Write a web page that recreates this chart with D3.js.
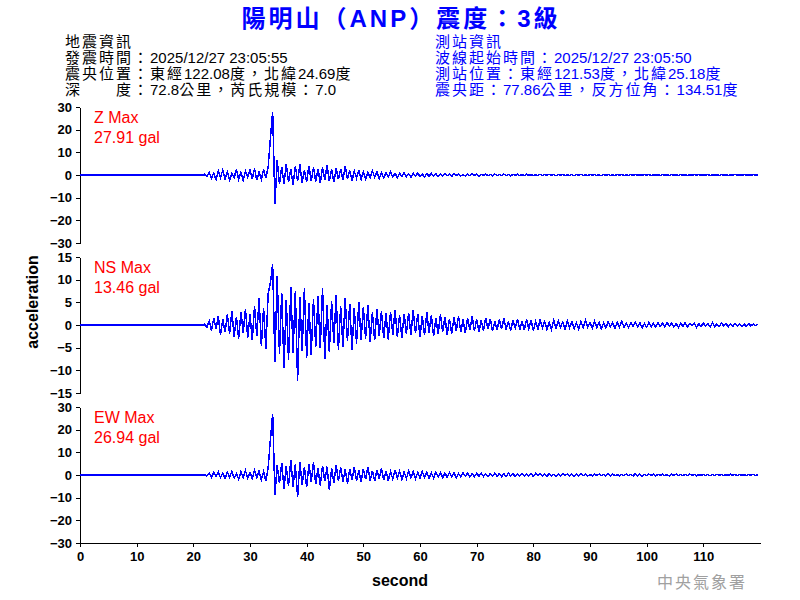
<!DOCTYPE html>
<html>
<head>
<meta charset="utf-8">
<script src="https://cdn.jsdelivr.net/npm/d3@7"></script>
<style>
  body { margin: 0; background: #fff; }
  .axis text { font-family: "Liberation Sans", Arial, sans-serif; font-size: 13px; font-weight: bold; fill: #000; }
  .axis path, .axis line { stroke: #000; shape-rendering: crispEdges; }
</style>
</head>
<body>
<div id="chart"></div>
<script>
// header texts
var title = "陽明山（ANP）震度：3級";
var quakeInfo = ["地震資訊", "發震時間：2025/12/27 23:05:55", "震央位置：東經122.08度，北緯24.69度", "深　　度：72.8公里，芮氏規模：7.0"];
var stationInfo = ["測站資訊", "波線起始時間：2025/12/27 23:05:50", "測站位置：東經121.53度，北緯25.18度", "震央距：77.86公里，反方位角：134.51度"];

// channels
var channels = ["Z", "NS", "EW"];
var maxLabels = ["27.91 gal", "13.46 gal", "26.94 gal"];
var yLimits = [30, 15, 30];
var yTicks = [
  [-30, -20, -10, 0, 10, 20, 30],
  [-15, -10, -5, 0, 5, 10, 15],
  [-30, -20, -10, 0, 10, 20, 30]
];
var xTicks = [0, 10, 20, 30, 40, 50, 60, 70, 80, 90, 100, 110];
var xMax = 120;

// trace is flat until the first arrival, then one sample every 0.4 s
var startTime = 22.0;
var sampleStep = 0.4;

var zValues = [
  0.3,-0.8,1.2,-1.5,0.9,-2.0,1.8,-1.1,2.3,-1.7,
  1.4,-2.2,0.8,-1.3,2.6,-1.9,1.1,-2.4,1.7,-0.9,
  2.1,-1.6,2.8,-2.3,1.3,-2.0,2.5,-1.4,3.4,16.2,
  27.91,-12.8,6.4,-4.1,3.6,-3.9,4.8,-3.2,2.7,-4.4,
  3.9,-2.8,4.6,-3.5,2.2,-3.1,4.1,-2.6,3.3,-2.9,
  2.8,-3.6,3.4,-2.1,4.3,-2.7,2.4,-3.2,3.0,-1.9,
  2.6,-2.3,3.8,-1.8,2.0,-2.5,1.7,-1.4,2.2,-2.0,
  1.5,-1.8,1.2,-1.3,1.9,-1.0,1.4,-1.6,0.9,-1.2,
  1.1,-0.8,1.3,-0.9,0.7,-1.1,0.8,-0.6,1.0,-0.7,
  0.6,-1.0,0.8,-0.5,0.9,-0.7,0.4,-0.8,0.6,-0.5,
  0.7,-0.4,0.5,-0.6,0.3,-0.5,0.6,-0.3,0.4,-0.6,
  0.5,-0.3,0.6,-0.4,0.2,-0.5,0.4,-0.3,0.5,-0.2,
  0.4,-0.5,0.3,-0.2,0.5,-0.4,0.2,-0.3,0.4,-0.3,
  0.3,-0.2,0.4,-0.3,0.2,-0.4,0.3,-0.2,0.3,-0.3,
  0.2,-0.3,0.3,-0.2,0.2,-0.3,0.1,-0.2,0.3,-0.2,
  0.2,-0.2,0.3,-0.1,0.2,-0.3,0.2,-0.1,0.2,-0.2,
  0.1,-0.2,0.2,-0.3,0.2,-0.1,0.3,-0.2,0.1,-0.2,
  0.2,-0.1,0.2,-0.2,0.1,-0.3,0.2,-0.1,0.2,-0.2,
  0.1,-0.2,0.2,-0.1,0.3,-0.2,0.1,-0.2,0.2,-0.1,
  0.2,-0.1,0.1,-0.2,0.2,-0.1,0.2,-0.3,0.1,-0.1,
  0.1,-0.2,0.2,-0.1,0.1,-0.2,0.2,-0.1,0.1,-0.2,
  0.2,-0.1,0.1,-0.2,0.1,-0.1,0.2,-0.1,0.2,-0.1,
  0.1,-0.1,0.2,-0.2,0.1,-0.1,0.1,-0.2,0.2,-0.1,
  0.1,-0.2,0.1,-0.1,0.2,-0.1,0.1,-0.1,0.2,-0.1,
  0.1,-0.1,0.2,-0.1,0.1
];

var nsValues = [
  0.2,-0.5,0.9,-1.2,1.5,-0.8,1.9,-2.2,1.3,-1.6,
  2.4,-1.9,3.1,-2.6,1.8,-3.0,2.9,-1.7,3.6,-2.8,
  2.3,-3.4,4.2,-2.5,5.9,-4.6,3.8,-5.2,6.8,9.3,
  13.46,-8.2,10.9,-6.4,7.1,-9.5,5.6,-7.8,8.3,-6.1,
  7.4,-12.4,6.2,-5.8,8.1,-7.3,4.9,-6.6,5.7,-4.8,
  6.3,-5.1,8.2,-7.6,4.4,-6.0,5.3,-3.9,6.5,-5.4,
  4.2,-4.8,5.9,-3.6,4.7,-5.5,3.8,-4.1,5.0,-3.3,
  3.9,-3.0,4.4,-3.7,2.8,-3.4,3.6,-2.5,3.1,-2.9,
  2.6,-3.2,2.9,-2.1,3.4,-2.7,2.2,-2.8,2.5,-1.9,
  2.7,-2.3,3.3,-1.8,2.4,-2.6,1.9,-2.2,2.8,-1.7,
  2.1,-2.5,1.6,-2.0,2.3,-1.5,1.8,-2.2,1.4,-1.9,
  1.7,-1.3,2.0,-1.6,1.2,-1.8,1.5,-1.1,1.9,-1.4,
  1.3,-1.6,1.0,-1.2,1.6,-0.9,1.4,-1.3,0.8,-1.1,
  1.2,-0.9,1.5,-1.0,0.8,-1.3,1.1,-0.7,1.3,-1.0,
  0.9,-1.1,1.2,-0.8,1.0,-1.2,0.7,-0.9,1.1,-0.6,
  0.8,-1.0,0.6,-0.9,1.0,-0.7,0.9,-0.5,0.7,-0.9,
  0.9,-0.6,0.7,-0.8,0.5,-0.9,0.8,-0.6,1.0,-0.5,
  0.6,-0.7,0.8,-0.5,0.6,-0.8,0.4,-0.6,0.7,-0.4,
  0.5,-0.7,0.6,-0.4,0.8,-0.5,0.4,-0.6,0.5,-0.3,
  0.6,-0.4,0.5,-0.6,0.3,-0.5,0.6,-0.4,0.4,-0.5,
  0.5,-0.3,0.4,-0.5,0.6,-0.3,0.4,-0.4,0.3,-0.5,
  0.4,-0.3,0.5,-0.4,0.3,-0.2,0.4,-0.5,0.3,-0.3,
  0.4,-0.2,0.3,-0.4,0.5,-0.3,0.2,-0.3,0.4,-0.2,
  0.3,-0.4,0.2,-0.3,0.4,-0.2,0.3,-0.3,0.2,-0.3,
  0.3,-0.2,0.2,-0.1,0.2
];

var ewValues = [
  0.2,-0.4,0.7,-0.9,1.1,-0.6,1.4,-1.2,0.8,-1.5,
  1.2,-0.9,1.6,-1.3,0.7,-1.8,1.5,-1.0,1.9,-1.4,
  1.1,-1.6,2.0,-1.2,1.7,-2.1,1.4,-2.6,3.2,15.6,
  26.94,-8.6,4.3,-3.7,5.2,-6.1,3.8,-4.9,6.6,-5.3,
  4.7,-9.8,5.9,-4.2,3.6,-5.4,4.9,-3.1,5.6,-4.0,
  3.2,-4.6,4.1,-2.8,3.7,-6.7,2.9,-3.5,4.4,-2.6,
  3.5,-3.0,2.4,-3.8,2.7,-2.2,3.3,-2.5,2.0,-2.9,
  2.6,-1.9,3.4,-2.4,1.8,-2.7,2.2,-1.6,2.9,-2.1,
  1.9,-2.4,1.5,-1.8,2.3,-1.4,1.7,-2.0,1.3,-1.6,
  1.8,-1.2,1.4,-1.7,1.1,-1.3,1.6,-1.0,1.2,-1.4,
  1.0,-1.3,1.3,-0.9,1.1,-1.2,0.8,-1.0,1.2,-0.7,
  0.9,-1.1,0.7,-0.8,1.0,-0.6,0.8,-0.9,0.6,-0.8,
  0.8,-0.6,0.9,-0.7,0.5,-0.8,0.7,-0.5,0.8,-0.6,
  0.6,-0.7,0.5,-0.6,0.8,-0.4,0.6,-0.7,0.4,-0.5,
  0.7,-0.5,0.6,-0.4,0.5,-0.6,0.7,-0.3,0.5,-0.6,
  0.4,-0.5,0.6,-0.4,0.3,-0.6,0.5,-0.4,0.6,-0.3,
  0.5,-0.3,0.4,-0.5,0.3,-0.4,0.6,-0.3,0.4,-0.5,
  0.3,-0.4,0.5,-0.3,0.4,-0.2,0.3,-0.4,0.5,-0.3,
  0.4,-0.3,0.2,-0.4,0.3,-0.3,0.5,-0.2,0.3,-0.4,
  0.6,-0.3,0.4,-0.5,0.3,-0.2,0.4,-0.3,0.5,-0.4,
  0.3,-0.2,0.4,-0.3,0.2,-0.4,0.3,-0.2,0.4,-0.3,
  0.2,-0.3,0.3,-0.2,0.4,-0.2,0.3,-0.3,0.2,-0.2,
  0.3,-0.2,0.2,-0.3,0.2,-0.2,0.3,-0.1,0.2,-0.3,
  0.2,-0.2,0.3,-0.1,0.2,-0.3,0.2,-0.2,0.1,-0.2,
  0.2,-0.1,0.3,-0.2,0.1
];

var traces = [zValues, nsValues, ewValues];

var width = 800, height = 600;
var margin = {left: 80, right: 40};
var panelTop = 107, panelHeight = 136, panelGap = 150;

var svg = d3.select("#chart").append("svg")
    .attr("width", width)
    .attr("height", height);

var latin = "'Liberation Sans', Arial, sans-serif";
var cjk = "'Noto Sans CJK TC', sans-serif";

// title
svg.append("text")
    .attr("x", 401)
    .attr("y", 27)
    .attr("text-anchor", "middle")
    .style("font-family", "'Liberation Sans', 'Noto Sans CJK TC', sans-serif")
    .style("font-size", "24px")
    .style("font-weight", "bold")
    .style("letter-spacing", "3px")
    .style("fill", "#0000ff")
    .text(title);

// info blocks, CJK runs spaced out a little more than the digits
function infoBlock(lines, x, color) {
  var t = svg.append("g").selectAll("text")
      .data(lines)
    .enter().append("text")
      .attr("x", x)
      .attr("y", function(d, i) { return 47 + i * 16; })
      .style("fill", color);

  t.each(function(d) {
    var el = d3.select(this);
    d.split(/([\u0020-\u007e]+)/).filter(function(s) { return s.length; })
      .forEach(function(s) {
        var isLatin = /^[\u0020-\u007e]+$/.test(s);
        el.append("tspan")
          .style("font-family", isLatin ? latin : cjk)
          .style("font-size", isLatin ? "15px" : "15px")
          .style("letter-spacing", isLatin ? "0px" : "2px")
          .text(s);
      });
  });
}
infoBlock(quakeInfo, 65, "#000");
infoBlock(stationInfo, 435, "#0000ff");

var x = d3.scaleLinear()
    .domain([0, xMax])
    .range([margin.left, width - margin.right]);

var line = d3.line()
    .x(function(d) { return x(d.t); })
    .y(function(d) { return d.y; });

channels.forEach(function(ch, k) {
  var top = panelTop + k * panelGap;
  var y = d3.scaleLinear()
      .domain([-yLimits[k], yLimits[k]])
      .range([top + panelHeight, top]);

  // y axis
  svg.append("g")
      .attr("class", "axis")
      .attr("transform", "translate(" + margin.left + ",0)")
      .call(d3.axisLeft(y).tickValues(yTicks[k]).tickSize(4).tickPadding(4).tickSizeOuter(0));

  // flat part before the arrival, then the samples
  var pts = [{t: 0, y: y(0)}, {t: startTime, y: y(0)}];
  traces[k].forEach(function(v, i) {
    pts.push({t: startTime + i * sampleStep, y: y(v)});
  });

  svg.append("path")
      .attr("d", line(pts))
      .attr("fill", "none")
      .attr("stroke", "#0000ff")
      .attr("stroke-width", 1.5)
      .attr("shape-rendering", "crispEdges");

  // max labels
  svg.append("text")
      .attr("x", 94)
      .attr("y", top + 16)
      .style("font-family", latin)
      .style("font-size", "16px")
      .style("fill", "#ff0000")
      .text(ch + " Max");
  svg.append("text")
      .attr("x", 94)
      .attr("y", top + 36)
      .style("font-family", latin)
      .style("font-size", "16px")
      .style("fill", "#ff0000")
      .text(maxLabels[k]);
});

// x axis under the last panel
var bottom = panelTop + 2 * panelGap + panelHeight;
svg.append("g")
    .attr("class", "axis")
    .attr("transform", "translate(0," + bottom + ")")
    .call(d3.axisBottom(x).tickValues(xTicks).tickSize(4).tickPadding(5).tickSizeOuter(0));

// axis titles
svg.append("text")
    .attr("x", 400)
    .attr("y", 586)
    .attr("text-anchor", "middle")
    .style("font-family", latin)
    .style("font-size", "16px")
    .style("font-weight", "bold")
    .text("second");

svg.append("text")
    .attr("transform", "translate(38,302) rotate(-90)")
    .attr("text-anchor", "middle")
    .style("font-family", latin)
    .style("font-size", "16px")
    .style("font-weight", "bold")
    .text("acceleration");

// watermark
svg.append("text")
    .attr("x", 657)
    .attr("y", 588)
    .style("font-family", cjk)
    .style("font-size", "16px")
    .style("letter-spacing", "2px")
    .style("fill", "#a0a0a0")
    .text("中央氣象署");
</script>
</body>
</html>
